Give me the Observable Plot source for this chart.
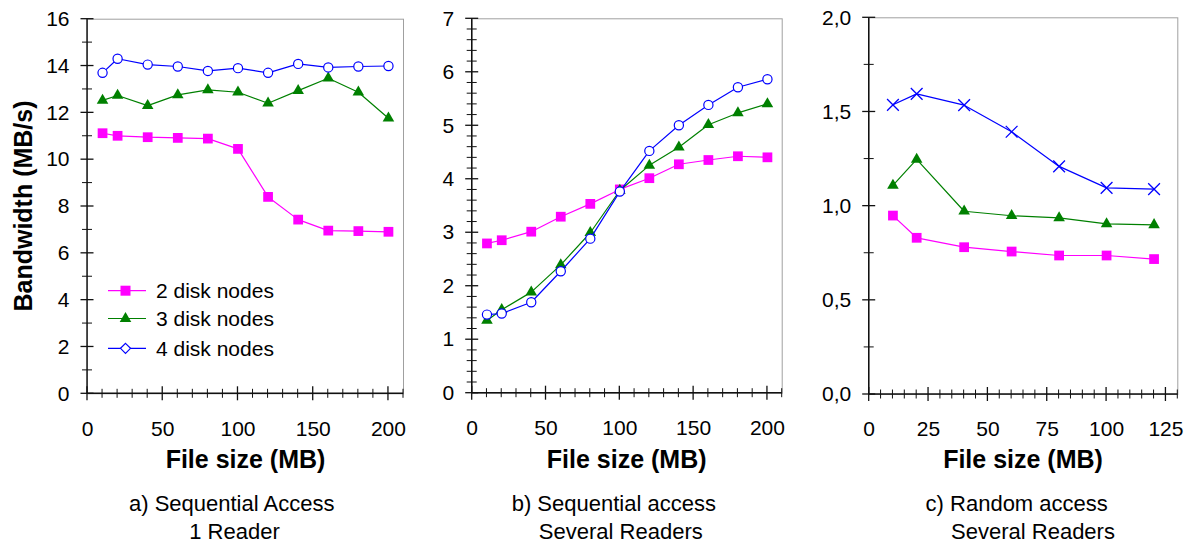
<!DOCTYPE html>
<html>
<head>
<meta charset="utf-8">
<script src="https://cdn.jsdelivr.net/npm/d3@7"></script>
<script src="https://cdn.jsdelivr.net/npm/@observablehq/plot@0.6"></script>
<style>
  html, body { margin: 0; padding: 0; background: #fff; }
  #page { position: relative; width: 1192px; height: 544px; overflow: hidden;
          font-family: "Liberation Sans", Arial, sans-serif; color: #000; }
  .panel { position: absolute; top: 0; }
  .overlay { position: absolute; top: 0; pointer-events: none; overflow: visible; }
  .xlabel { position: absolute; top: 444px; height: 30px; line-height: 30px; font-weight: bold;
            font-size: 25px; white-space: nowrap; transform: translateX(-50%); }
  .ylabel { position: absolute; font-weight: bold; font-size: 25px; white-space: nowrap;
            line-height: 30px; transform: translate(-50%, -50%) rotate(-90deg); }
  .cap { position: absolute; font-size: 22px; line-height: 27.5px; white-space: nowrap;
         transform: translateX(-50%); }
  .leg { position: absolute; left: 0; top: 0; pointer-events: none; }
</style>
</head>
<body>
<div id="page"></div>
<script>
// ---------- data ----------
const sizesAB = [10, 20, 40, 60, 80, 100, 120, 140, 160, 180, 200];
const sizesC = [10, 20, 40, 60, 80, 100, 120];

const seriesNames = ["2 disk nodes", "3 disk nodes", "4 disk nodes"];

const a2 = [11.13, 11.02, 10.96, 10.93, 10.90, 10.46, 8.41, 7.44, 6.97, 6.95, 6.92];
const a3 = [12.53, 12.74, 12.31, 12.77, 12.98, 12.88, 12.41, 12.95, 13.48, 12.88, 11.77];
const a4 = [13.71, 14.31, 14.06, 13.98, 13.79, 13.91, 13.71, 14.09, 13.94, 13.98, 14.00];

const b2 = [2.80, 2.86, 3.02, 3.30, 3.54, 3.81, 4.02, 4.28, 4.36, 4.43, 4.41];
const b3 = [1.36, 1.56, 1.89, 2.40, 3.00, 3.79, 4.26, 4.60, 5.02, 5.24, 5.41];
const b4 = [1.47, 1.49, 1.70, 2.28, 2.89, 3.77, 4.53, 5.01, 5.39, 5.72, 5.87];

const c2 = [0.950, 0.832, 0.782, 0.759, 0.738, 0.738, 0.719];
const c3 = [1.110, 1.248, 0.973, 0.949, 0.938, 0.906, 0.901];
const c4 = [1.538, 1.596, 1.536, 1.395, 1.211, 1.097, 1.090];

// tick values
const xMajorAB = [0, 50, 100, 150, 200];
const xMinorAB = [10, 20, 30, 40, 60, 70, 80, 90, 110, 120, 130, 140, 160, 170, 180, 190, 210];
const xMajorC = [0, 25, 50, 75, 100, 125];
const xMinorC = [5, 10, 15, 20, 30, 35, 40, 45, 55, 60, 65, 70, 80, 85, 90, 95, 105, 110, 115, 120, 130];
const yMajorA = [0, 2, 4, 6, 8, 10, 12, 14, 16];
const yMinorA = [1, 3, 5, 7, 9, 11, 13, 15];
const yMajorB = [0, 1, 2, 3, 4, 5, 6, 7];
const yMinorB = [0.2, 0.4, 0.6, 0.8, 1.2, 1.4, 1.6, 1.8, 2.2, 2.4, 2.6, 2.8, 3.2, 3.4, 3.6, 3.8,
                 4.2, 4.4, 4.6, 4.8, 5.2, 5.4, 5.6, 5.8, 6.2, 6.4, 6.6, 6.8];
const yMajorC = [0, 0.5, 1.0, 1.5, 2.0];
const yMinorC = [0.25, 0.75, 1.25, 1.75];

const captions = [
  ["a) Sequential Access", "1 Reader"],
  ["b) Sequential access", "Several Readers"],
  ["c) Random access", "Several Readers"]
];
const xLabel = "File size (MB)";
const yLabel = "Bandwidth (MB/s)";

// ---------- styles ----------
const PINK = "#ff00ff", GREEN = "#008000", BLUE = "#0000ff";
const FONT = "'Liberation Sans', Arial, sans-serif";
const ns = "http://www.w3.org/2000/svg";
const H = 443;
const overlays = [];

function rows(sizes, values, name) {
  return sizes.map((s, i) => ({size: s, value: values[i], series: name}));
}

function makePanel(cfg) {
  const marks = [
    Plot.frame({stroke: "#a0a0a0"}),
    Plot.axisX(cfg.xMajor, {anchor: "bottom", tickSize: 0, tickPadding: 27, fontSize: 21, label: null}),
    Plot.axisY(cfg.yMajor, {anchor: "left", tickSize: 0, tickPadding: 18, fontSize: 21, label: null, tickFormat: cfg.yFormat})
  ];
  for (const s of cfg.series) {
    marks.push(Plot.line(s.data, {x: "size", y: "value", stroke: s.color, strokeWidth: 1.2}));
    marks.push(Plot.dot(s.data, {x: "size", y: "value", symbol: s.symbol, r: s.r,
      fill: s.fill, stroke: s.stroke, strokeWidth: s.strokeWidth}));
  }
  const svg = Plot.plot({
    width: cfg.width,
    height: H,
    marginLeft: cfg.ml,
    marginRight: cfg.mr,
    marginTop: cfg.mt,
    marginBottom: H - cfg.bottom,
    x: {domain: cfg.xDomain, label: null},
    y: {domain: cfg.yDomain, label: null},
    style: {fontFamily: FONT, fontSize: "21px", color: "#000", background: "none", overflow: "visible"},
    marks
  });
  const wrap = document.createElement("div");
  wrap.className = "panel";
  wrap.style.left = cfg.left + "px";
  wrap.appendChild(svg);

  // axis lines and crossing ticks, positioned with the plot's own scales
  const sx = svg.scale("x"), sy = svg.scale("y");
  const ov = document.createElementNS(ns, "svg");
  ov.setAttribute("class", "overlay");
  ov.setAttribute("width", cfg.width);
  ov.setAttribute("height", H);
  ov.style.left = cfg.left + "px";
  const X0 = sx.apply(cfg.xDomain[0]), X1 = sx.apply(cfg.xDomain[1]);
  const Y0 = sy.apply(cfg.yDomain[0]), Y1 = sy.apply(cfg.yDomain[1]);
  const addLine = (x1, y1, x2, y2, sw) => {
    const l = document.createElementNS(ns, "line");
    l.setAttribute("x1", x1); l.setAttribute("y1", y1);
    l.setAttribute("x2", x2); l.setAttribute("y2", y2);
    l.setAttribute("stroke", "#111"); l.setAttribute("stroke-width", sw);
    ov.appendChild(l);
  };
  addLine(X0, Y0, X1, Y0, 1.4);
  addLine(X0, Y0, X0, Y1, 1.4);
  for (const t of cfg.xMinor) { const px = sx.apply(t); addLine(px, Y0 - 4.5, px, Y0 + 4.5, 1); }
  for (const t of cfg.xMajor) { const px = sx.apply(t); addLine(px, Y0 - 7, px, Y0 + 7, 1.3); }
  for (const t of cfg.yMinor) { const py = sy.apply(t); addLine(X0 - 5, py, X0 + 5, py, 1); }
  for (const t of cfg.yMajor) { const py = sy.apply(t); addLine(X0 - 6.5, py, X0 + 6.5, py, 1.3); }
  overlays.push(ov);
  return wrap;
}

function seriesSet(sizes, v2, v3, v4, fourSymbol) {
  return [
    {data: rows(sizes, v2, seriesNames[0]), color: PINK, symbol: "square", r: 5.5, fill: PINK, stroke: null, strokeWidth: null},
    {data: rows(sizes, v3, seriesNames[1]), color: GREEN, symbol: "triangle", r: 4.3, fill: GREEN, stroke: null, strokeWidth: null},
    fourSymbol === "times"
      ? {data: rows(sizes, v4, seriesNames[2]), color: BLUE, symbol: "times", r: 5.4, fill: "none", stroke: BLUE, strokeWidth: 1.3}
      : {data: rows(sizes, v4, seriesNames[2]), color: BLUE, symbol: "circle", r: 4.6, fill: "#fff", stroke: BLUE, strokeWidth: 1.2}
  ];
}

const page = document.getElementById("page");

const fmtInt = d => String(d);
const fmtComma = d => d.toFixed(1).replace(".", ",");

page.appendChild(makePanel({
  left: 0, width: 410, ml: 87, mr: 7, mt: 18.7, bottom: 393.3,
  xDomain: [0, 210], yDomain: [0, 16],
  xMajor: xMajorAB, xMinor: xMinorAB, yMajor: yMajorA, yMinor: yMinorA, yFormat: fmtInt,
  series: seriesSet(sizesAB, a2, a3, a4, "circle")
}));
page.appendChild(makePanel({
  left: 410, width: 380, ml: 61.7, mr: 8.3, mt: 18.3, bottom: 392.7,
  xDomain: [0, 210], yDomain: [0, 7],
  xMajor: xMajorAB, xMinor: xMinorAB, yMajor: yMajorB, yMinor: yMinorB, yFormat: fmtInt,
  series: seriesSet(sizesAB, b2, b3, b4, "circle")
}));
page.appendChild(makePanel({
  left: 790, width: 402, ml: 78.7, mr: 14.7, mt: 17.3, bottom: 394,
  xDomain: [0, 130], yDomain: [0, 2],
  xMajor: xMajorC, xMinor: xMinorC, yMajor: yMajorC, yMinor: yMinorC, yFormat: fmtComma,
  series: seriesSet(sizesC, c2, c3, c4, "times")
}));

// axis titles
for (const cx of [245.5, 626.7, 1023]) {
  const d = document.createElement("div");
  d.className = "xlabel";
  d.style.left = cx + "px";
  d.textContent = xLabel;
  page.appendChild(d);
}
const yl = document.createElement("div");
yl.className = "ylabel";
yl.style.left = "22.5px";
yl.style.top = "206px";
yl.textContent = yLabel;
page.appendChild(yl);

// captions
const capCenters = [[231.7, 234.5], [613.8, 620.8], [1016.7, 1033]];
captions.forEach((lines, i) => {
  lines.forEach((t, j) => {
    const d = document.createElement("div");
    d.className = "cap";
    d.style.left = capCenters[i][j] + "px";
    d.style.top = (490.3 + j * 27.5) + "px";
    d.textContent = t;
    page.appendChild(d);
  });
});

// legend (panel a)
const legendRows = [
  {name: seriesNames[0], color: PINK, y: 290.7, shape: "square"},
  {name: seriesNames[1], color: GREEN, y: 318.5, shape: "triangle"},
  {name: seriesNames[2], color: BLUE, y: 348.3, shape: "diamond"}
];
const leg = document.createElementNS(ns, "svg");
leg.setAttribute("class", "leg");
leg.setAttribute("width", 300);
leg.setAttribute("height", 370);
for (const r of legendRows) {
  const line = document.createElementNS(ns, "line");
  line.setAttribute("x1", 108); line.setAttribute("x2", 146);
  line.setAttribute("y1", r.y); line.setAttribute("y2", r.y);
  line.setAttribute("stroke", r.color); line.setAttribute("stroke-width", 1.2);
  leg.appendChild(line);
  const p = document.createElementNS(ns, "path");
  const cx = 125.5, cy = r.y;
  if (r.shape === "square") {
    p.setAttribute("d", `M${cx-5},${cy-5}h10v10h-10z`);
    p.setAttribute("fill", r.color);
  } else if (r.shape === "triangle") {
    p.setAttribute("d", `M${cx},${cy-6.5}L${cx+5.8},${cy+3.5}L${cx-5.8},${cy+3.5}z`);
    p.setAttribute("fill", r.color);
  } else {
    p.setAttribute("d", `M${cx},${cy-5}L${cx+5},${cy}L${cx},${cy+5}L${cx-5},${cy}z`);
    p.setAttribute("fill", "#fff");
    p.setAttribute("stroke", r.color);
    p.setAttribute("stroke-width", 1.2);
  }
  leg.appendChild(p);
  const t = document.createElementNS(ns, "text");
  t.setAttribute("x", 156);
  t.setAttribute("y", r.y);
  t.setAttribute("dy", "0.36em");
  t.setAttribute("font-size", 21);
  t.setAttribute("font-family", FONT);
  t.textContent = r.name;
  leg.appendChild(t);
}
page.appendChild(leg);
for (const ov of overlays) page.appendChild(ov);
</script>
</body>
</html>
